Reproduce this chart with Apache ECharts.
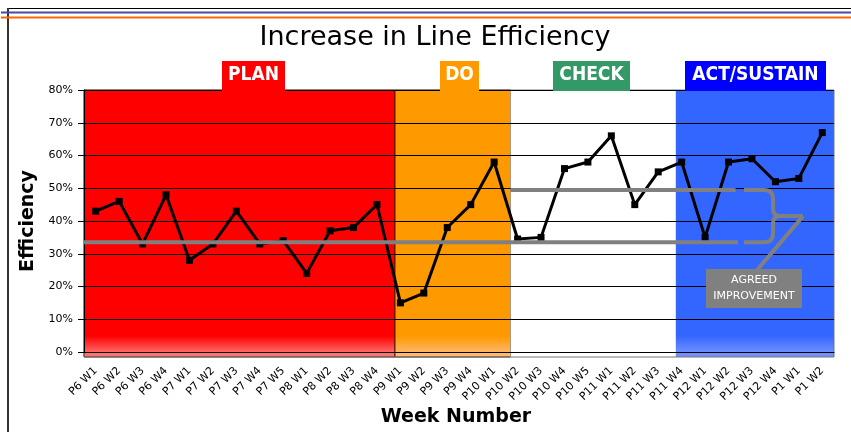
<!DOCTYPE html>
<html>
<head>
<meta charset="utf-8">
<script src="https://cdn.jsdelivr.net/npm/echarts@6/dist/echarts.min.js"></script>
<style>html,body{margin:0;padding:0;background:#fff}#c{width:851px;height:432px}</style>
</head>
<body>
<div id="c"></div>
<script>
const categories = ['P6 W1','P6 W2','P6 W3','P6 W4','P7 W1','P7 W2','P7 W3','P7 W4','P7 W5','P8 W1','P8 W2','P8 W3','P8 W4','P9 W1','P9 W2','P9 W3','P9 W4','P10 W1','P10 W2','P10 W3','P10 W4','P10 W5','P11 W1','P11 W2','P11 W3','P11 W4','P12 W1','P12 W2','P12 W3','P12 W4','P1 W1','P1 W2'];
const efficiency = [43,46,33,48,28,33,43,33,34,24,37,38,45,15,18,38,45,58,34.5,35,56,58,66,45,55,58,35,58,59,52,53,67];
const phaseNames = ['PLAN','DO','CHECK','ACT/SUSTAIN'];
const phaseStart = [0, 13.27, 18.2, 25.25];
const phaseEnd = [13.27, 18.2, 25.25, 32];
const beforeLevel = 33.5;
const afterLevel = 49.5;
const beforeSpan = [0, 27.9];
const afterSpan = [18.2, 27.8];
const braceX = 28.16;
const yMin = 0, yMax = 80, yStep = 10;

const FONT = 'DejaVu Sans';
const phaseFill = [
  ['#ff0000', '#ff7070'],
  ['#ff9900', '#ffb870'],
  ['#ffffff', '#ffffff'],
  ['#3366ff', '#7090ff']
];
const labelBoxColor = ['#ff0000', '#ff9900', '#339966', '#0000ff'];
const labelBoxX = [[222, 285], [440, 479], [553, 630], [685, 826]];

const chart = echarts.init(document.getElementById('c'), null, {renderer: 'canvas'});

const option = {
  animation: false,
  grid: [
    {left: 84, right: 17, top: 90, bottom: 75, show: true, backgroundColor: 'transparent', borderColor: '#777', borderWidth: 1},
    {left: 84, right: 17, top: 90, bottom: 80}
  ],
  xAxis: [
    {gridIndex: 1, type: 'category', data: categories, boundaryGap: true,
     axisLine: {lineStyle: {color: '#000', width: 1}},
     axisTick: {length: 4, lineStyle: {color: '#000'}},
     axisLabel: {interval: 0, rotate: 45, fontSize: 11, color: '#000', fontFamily: FONT, margin: 17},
     splitLine: {show: false}},
    {gridIndex: 1, type: 'value', min: 0, max: 32, show: false},
    {gridIndex: 0, type: 'value', min: 0, max: 32, show: false}
  ],
  yAxis: [
    {gridIndex: 1, type: 'value', min: yMin, max: yMax, interval: yStep,
     axisLabel: {formatter: '{value}%', fontSize: 11, color: '#000', fontFamily: FONT, margin: 11},
     axisLine: {show: true, lineStyle: {color: '#000'}},
     axisTick: {show: true, length: 6, lineStyle: {color: '#000'}},
     splitLine: {show: true, lineStyle: {color: '#000', width: 1}}},
    {gridIndex: 0, type: 'value', min: 0, max: 1, show: false}
  ],
  series: [
    {
      type: 'custom', xAxisIndex: 2, yAxisIndex: 1, z: -1, silent: true,
      data: phaseStart.map((s, i) => [s, phaseEnd[i], i]),
      encode: {x: [0, 1]},
      renderItem: function (params, api) {
        const i = api.value(2);
        const p0 = api.coord([api.value(0), 1]);
        const p1 = api.coord([api.value(1), 0]);
        return {
          type: 'rect',
          shape: {x: p0[0], y: p0[1], width: p1[0] - p0[0], height: p1[1] - p0[1]},
          style: {
            fill: new echarts.graphic.LinearGradient(0, 0, 0, 1, [
              {offset: 0, color: phaseFill[i][0]},
              {offset: 0.92, color: phaseFill[i][0]},
              {offset: 0.985, color: phaseFill[i][1]},
              {offset: 1, color: phaseFill[i][1]}
            ]),
            stroke: i < 2 ? 'rgba(60,30,0,0.55)' : null,
            lineWidth: i < 2 ? 1 : 0
          }
        };
      }
    },
    {
      type: 'line', xAxisIndex: 0, yAxisIndex: 0, z: 3,
      data: efficiency, symbol: 'rect', symbolSize: 7,
      itemStyle: {color: '#000'}, lineStyle: {color: '#000', width: 3}
    },
    {
      type: 'line', xAxisIndex: 1, yAxisIndex: 0, z: 4, silent: true, symbol: 'none',
      data: [[beforeSpan[0], beforeLevel], [beforeSpan[1], beforeLevel]],
      lineStyle: {color: '#808080', width: 4}
    },
    {
      type: 'line', xAxisIndex: 1, yAxisIndex: 0, z: 4, silent: true, symbol: 'none',
      data: [[afterSpan[0], afterLevel], [afterSpan[1], afterLevel]],
      lineStyle: {color: '#808080', width: 4}
    },
    {
      type: 'custom', xAxisIndex: 1, yAxisIndex: 0, z: 5, silent: true,
      data: [[braceX, afterLevel, beforeLevel]],
      encode: {x: 0, y: [1, 2]},
      renderItem: function (params, api) {
        const pT = api.coord([api.value(0), api.value(1)]);
        const pB = api.coord([api.value(0), api.value(2)]);
        const xs = pT[0], yT = pT[1], yB = pB[1];
        const ym = (yT + yB) / 2;
        const xc = xs + 29;
        const tip = xc + 30;
        const d = 'M' + xs + ' ' + yT + ' L' + (xc - 9) + ' ' + yT +
          ' Q' + xc + ' ' + yT + ' ' + xc + ' ' + (yT + 9) +
          ' L' + xc + ' ' + (ym - 7) +
          ' Q' + xc + ' ' + ym + ' ' + (xc + 8) + ' ' + ym +
          ' L' + tip + ' ' + ym +
          ' M' + (xc + 8) + ' ' + ym +
          ' Q' + xc + ' ' + ym + ' ' + xc + ' ' + (ym + 7) +
          ' L' + xc + ' ' + (yB - 9) +
          ' Q' + xc + ' ' + yB + ' ' + (xc - 9) + ' ' + yB +
          ' L' + xs + ' ' + yB +
          ' M' + tip + ' ' + ym + ' L' + (tip - 46) + ' ' + (ym + 54);
        return {
          type: 'path',
          shape: {pathData: d},
          style: {stroke: '#808080', lineWidth: 4, fill: 'none'}
        };
      }
    }
  ]
};
chart.setOption(option);

const graphics = [
  {type: 'line', shape: {x1: 7, y1: 8.5, x2: 851, y2: 8.5}, style: {stroke: '#000', lineWidth: 1}, silent: true},
  {type: 'line', shape: {x1: 8, y1: 8, x2: 8, y2: 432}, style: {stroke: '#333', lineWidth: 2}, silent: true},
  {type: 'line', shape: {x1: 1, y1: 12.5, x2: 851, y2: 12.5}, style: {stroke: '#4a4a9c', lineWidth: 2}, silent: true},
  {type: 'line', shape: {x1: 1, y1: 17.5, x2: 851, y2: 17.5}, style: {stroke: '#ff6600', lineWidth: 2}, silent: true},
  {type: 'text', x: 435, y: 38, style: {text: 'Increase in Line Efficiency', font: '27px "' + FONT + '"', fill: '#000', align: 'center', verticalAlign: 'middle'}},
  {type: 'text', x: 28, y: 221, rotation: Math.PI / 2, style: {text: 'Efficiency', font: 'bold 19px "' + FONT + '"', fill: '#000', align: 'center', verticalAlign: 'middle'}},
  {type: 'text', x: 456, y: 417, style: {text: 'Week Number', font: 'bold 19px "' + FONT + '"', fill: '#000', align: 'center', verticalAlign: 'middle'}},
  {type: 'rect', shape: {x: 706, y: 269, width: 96, height: 39}, style: {fill: '#808080'}, z: 100},
  {type: 'text', x: 754, y: 280, z: 101, style: {text: 'AGREED', font: '11px "' + FONT + '"', fill: '#fff', align: 'center', verticalAlign: 'middle'}},
  {type: 'text', x: 754, y: 296, z: 101, style: {text: 'IMPROVEMENT', font: '11px "' + FONT + '"', fill: '#fff', align: 'center', verticalAlign: 'middle'}}
];
phaseNames.forEach((name, i) => {
  const a = labelBoxX[i][0], b = labelBoxX[i][1];
  graphics.push({type: 'rect', shape: {x: a, y: 61, width: b - a, height: 30}, style: {fill: labelBoxColor[i]}, z: 100});
  graphics.push({type: 'text', x: (a + b) / 2, y: 75, z: 101, style: {text: name, font: 'bold 19px "DejaVu Sans Condensed", "Liberation Sans Narrow", sans-serif', fill: '#fff', align: 'center', verticalAlign: 'middle'}});
});
chart.setOption({graphic: graphics});
</script>
</body>
</html>
